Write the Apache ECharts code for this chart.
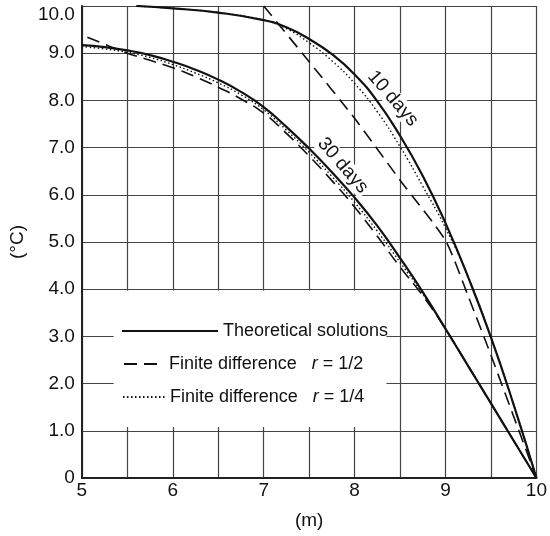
<!DOCTYPE html>
<html>
<head>
<meta charset="utf-8">
<script src="https://cdn.jsdelivr.net/npm/echarts@6.0.0/dist/echarts.min.js"></script>
<style>
  html, body { margin: 0; padding: 0; background: #fff; }
  #chart { width: 550px; height: 536px; }
</style>
</head>
<body>
<div id="chart"></div>
<script>
// distance (m) / temperature (°C)
const theo10X = [5.6, 6.0, 6.5, 7.0, 7.25, 7.5, 7.75, 8.0, 8.25, 8.5, 8.75, 9.0, 9.25, 9.5, 9.75, 10.0];
const theo10Y = [10.0, 9.95, 9.86, 9.70, 9.55, 9.30, 8.98, 8.55, 7.98, 7.25, 6.40, 5.40, 4.25, 2.98, 1.55, 0];

const half10X = [7.0, 7.5, 8.0, 8.5, 9.0, 9.25, 9.5, 9.75, 10.0];
const half10Y = [10.0, 8.82, 7.62, 6.31, 5.03, 3.85, 2.6, 1.3, 0];

const quarter10X = [5.6, 6.0, 6.5, 7.0, 7.25, 7.5, 7.75, 8.0, 8.25, 8.5, 8.75, 9.0, 9.25, 9.5, 9.75, 10.0];
const quarter10Y = [10.0, 9.95, 9.86, 9.70, 9.52, 9.22, 8.84, 8.36, 7.76, 7.02, 6.18, 5.30, 4.25, 2.98, 1.55, 0];

const theo30X = [5.0, 5.25, 5.5, 5.75, 6.0, 6.25, 6.5, 6.75, 7.0, 7.25, 7.5, 7.75, 8.0, 8.25, 8.5, 8.75, 9.0, 9.25, 9.5, 9.75, 10.0];
const theo30Y = [9.17, 9.13, 9.06, 8.96, 8.82, 8.65, 8.44, 8.18, 7.86, 7.44, 6.98, 6.48, 5.94, 5.34, 4.66, 3.94, 3.16, 2.37, 1.58, 0.79, 0];

const half30X = [5.06, 5.25, 5.5, 5.75, 6.0, 6.25, 6.5, 6.75, 7.0, 7.25, 7.5, 7.75, 8.0, 8.25, 8.5, 8.75, 9.0, 9.25, 9.5, 9.75, 10.0];
const half30Y = [9.34, 9.19, 9.0, 8.85, 8.69, 8.5, 8.28, 8.03, 7.73, 7.3, 6.82, 6.3, 5.74, 5.12, 4.47, 3.86, 3.16, 2.37, 1.58, 0.79, 0];

const quarter30X = [5.0, 5.25, 5.5, 5.75, 6.0, 6.25, 6.5, 6.75, 7.0, 7.25, 7.5, 7.75, 8.0, 8.25, 8.5, 8.75, 9.0, 9.25, 9.5, 9.75, 10.0];
const quarter30Y = [9.14, 9.09, 9.02, 8.91, 8.76, 8.58, 8.37, 8.12, 7.8, 7.37, 6.9, 6.39, 5.84, 5.23, 4.57, 3.9, 3.16, 2.37, 1.58, 0.79, 0];

// curve captions
const noteText = ['10 days', '30 days'];
const noteX = [8.42, 7.87];
const noteY = [8.04, 6.62];

const nameTheo = 'Theoretical solutions';
const nameHalf = 'Finite difference r = 1/2';
const nameQuarter = 'Finite difference r = 1/4';

function pairs(xs, ys) {
  return xs.map((x, i) => [x, ys[i]]);
}

const font = 'Liberation Sans, Arial, Helvetica, sans-serif';
const ink = '#111';

const chart = echarts.init(document.getElementById('chart'));

const richText = {
  t: { fontSize: 18, fontFamily: font, color: ink },
  i: { fontSize: 18, fontFamily: font, color: ink, fontStyle: 'italic' }
};

function legendFmt(name) {
  if (name === nameTheo) return '{t|' + name + '}';
  const parts = name.split(' r ');
  const lead = name === nameHalf ? ' ' : '';
  return '{t|' + lead + parts[0] + '   }{i|r}{t| ' + parts[1] + '}';
}

const dashed = { color: ink, width: 1.6, type: [13, 7] };
const dotted = { color: ink, width: 1.4, type: [1.5, 2.5] };
const solid = { color: ink, width: 2.2, type: 'solid' };

const legendBase = {
  padding: 0, itemHeight: 14, formatter: legendFmt, selectedMode: false,
  itemStyle: { opacity: 0 },
  textStyle: { rich: richText }
};

chart.setOption({
  animation: false,
  backgroundColor: '#fff',
  grid: { left: 77, right: 2, top: 6, bottom: 58 },
  legend: [
    Object.assign({ data: [nameTheo], left: 121, top: 322, itemWidth: 96 }, legendBase),
    Object.assign({ data: [nameHalf], left: 123, top: 355, itemWidth: 35 }, legendBase),
    Object.assign({ data: [nameQuarter], left: 122, top: 388, itemWidth: 42 }, legendBase)
  ],
  xAxis: {
    type: 'value', min: 5, max: 10, interval: 0.5,
    name: '(m)', nameLocation: 'middle', nameGap: 33,
    nameTextStyle: { fontSize: 19, fontFamily: font, color: ink },
    axisLine: { show: true, lineStyle: { color: '#222', width: 2 } },
    axisTick: { show: false },
    axisLabel: {
      margin: 3, fontSize: 19, fontFamily: font, color: ink,
      formatter: v => (v % 1 === 0 ? String(v) : '')
    },
    splitLine: { show: true, lineStyle: { color: '#444', width: 1.2 } }
  },
  yAxis: {
    type: 'value', min: 0, max: 10, interval: 1,
    name: '(°C)', nameLocation: 'middle', nameGap: 50,
    nameTextStyle: { fontSize: 19, fontFamily: font, color: ink },
    axisLine: { show: true, lineStyle: { color: '#222', width: 2 } },
    axisTick: { show: false },
    axisLabel: {
      margin: 7, fontSize: 19, fontFamily: font, color: ink,
      formatter: v => (v === 0 ? '0' : v === 10 ? '{top|10.0}' : v.toFixed(1)),
      rich: { top: { fontSize: 19, fontFamily: font, color: ink, padding: [18, 0, 0, 0] } }
    },
    splitLine: { show: true, lineStyle: { color: '#444', width: 1.2 } }
  },
  series: [
    {
      name: 'notes', type: 'scatter', symbolSize: 0.1,
      itemStyle: { color: '#fff', opacity: 1 },
      data: noteX.map((x, i) => ({ value: [x, noteY[i]], name: noteText[i] })),
      label: {
        show: true, position: 'inside', formatter: p => p.name,
        rotate: -49, fontSize: 19, fontFamily: font, color: ink, opacity: 1,
        textBorderWidth: 0, backgroundColor: '#fff', padding: [0, 2]
      },
      markArea: {
        silent: true,
        itemStyle: { color: '#fff', opacity: 1 },
        data: [[{ coord: [5.35, 3.97] }, { coord: [8.35, 1.08] }]]
      },
      z: 3
    },
    { name: nameHalf, type: 'line', data: pairs(half10X, half10Y), smooth: 0.2, symbol: 'none', lineStyle: dashed, z: 4 },
    { name: nameQuarter, type: 'line', data: pairs(quarter10X, quarter10Y), smooth: 0.5, symbol: 'none', lineStyle: dotted, z: 4 },
    { name: nameHalf, type: 'line', data: pairs(half30X, half30Y), smooth: 0.5, symbol: 'none', lineStyle: dashed, z: 4 },
    { name: nameQuarter, type: 'line', data: pairs(quarter30X, quarter30Y), smooth: 0.5, symbol: 'none', lineStyle: dotted, z: 4 },
    { name: nameTheo, type: 'line', data: pairs(theo10X, theo10Y), smooth: 0.5, symbol: 'none', lineStyle: solid, z: 5 },
    { name: nameTheo, type: 'line', data: pairs(theo30X, theo30Y), smooth: 0.5, symbol: 'none', lineStyle: solid, z: 5 }
  ]
});
</script>
</body>
</html>
